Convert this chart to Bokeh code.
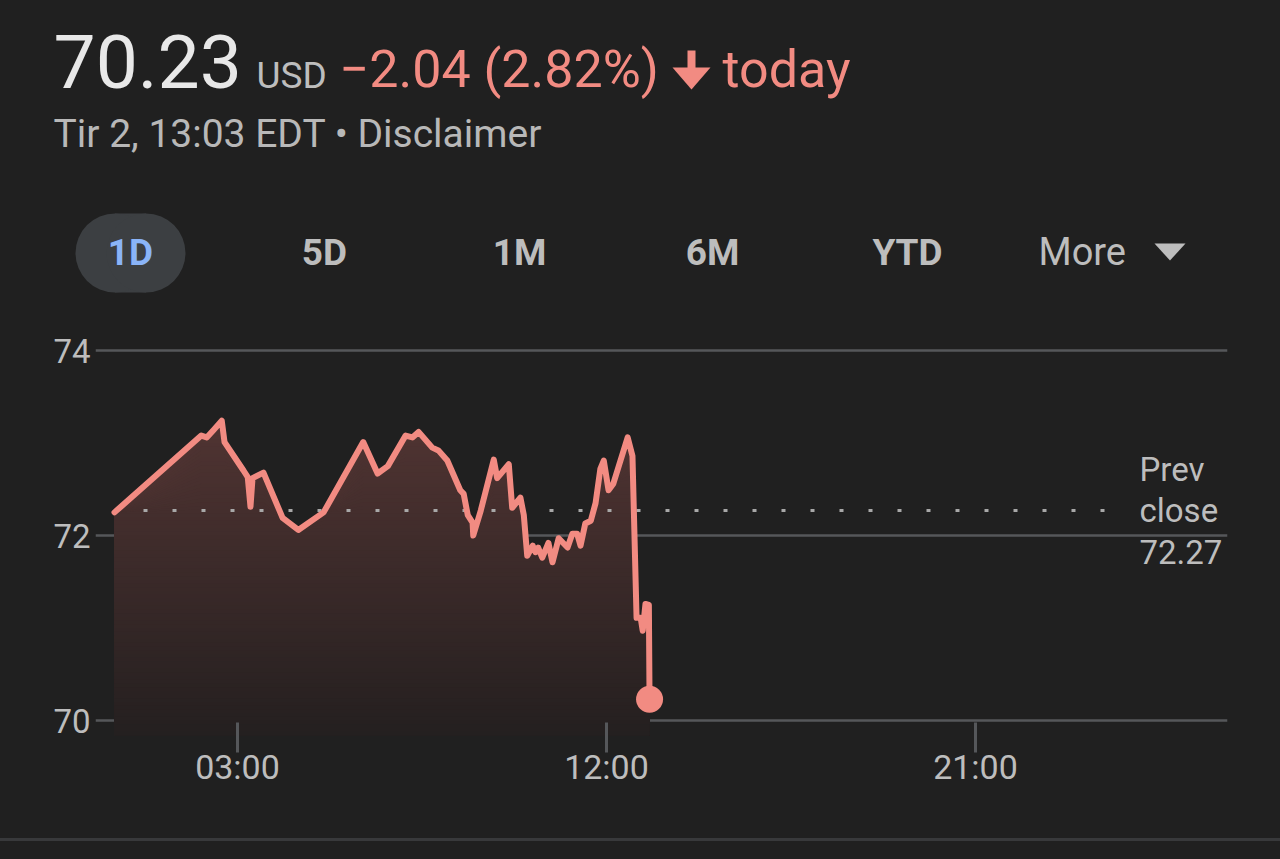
import numpy as np
from bokeh.plotting import figure
from bokeh.models import Range1d, FixedTicker, Label, Div
from bokeh.layouts import column
from bokeh.core.properties import value
from bokeh.embed import file_html
from bokeh.resources import INLINE

# ---------------- data ----------------
times = ["00:00", "02:07", "02:15", "02:25", "02:37", "02:41", "03:09", "03:15",
         "03:19", "03:22", "03:38", "04:06", "04:29", "05:06", "06:04", "06:25",
         "06:40", "07:06", "07:16", "07:25", "07:45", "07:54", "08:07", "08:26",
         "08:31", "08:37", "08:44", "08:45", "08:56", "09:15", "09:20", "09:37",
         "09:42", "09:54", "09:59", "10:04", "10:12", "10:16", "10:20", "10:26",
         "10:35", "10:41", "10:50", "11:03", "11:10", "11:17", "11:22", "11:29",
         "11:37", "11:44", "11:51", "11:56", "12:03", "12:10", "12:31", "12:38",
         "12:44", "12:50", "12:53", "12:57", "13:02", "13:03"]
prices = [72.25, 73.08, 73.06, 73.14, 73.24, 73.01, 72.70, 72.63,
          72.31, 72.62, 72.68, 72.19, 72.06, 72.25, 73.01, 72.67,
          72.75, 73.08, 73.06, 73.12, 72.95, 72.92, 72.81, 72.49,
          72.45, 72.22, 72.14, 72.00, 72.27, 72.82, 72.62, 72.77,
          72.30, 72.41, 72.22, 71.78, 71.89, 71.82, 71.87, 71.76,
          71.92, 71.71, 71.97, 71.87, 72.02, 72.02, 71.89, 72.13,
          72.16, 72.35, 72.72, 72.81, 72.49, 72.56, 73.06, 72.86,
          71.11, 71.11, 70.97, 71.26, 71.25, 70.23]
prev_close = 72.27
y_ticks = [70, 72, 74]
x_tick_labels = ["03:00", "12:00", "21:00"]

price_text = "70.23"
currency = "USD"
change_text = "\u22122.04 (2.82%)"
today_text = "today"
sub_text = "Tir 2, 13:03 EDT \u2022 Disclaimer"
periods = ["1D", "5D", "1M", "6M", "YTD"]
more_text = "More"
prev_lines = ["Prev", "close", f"{prev_close:.2f}"]

# ---------------- style ----------------
BG = "#202020"
GRID = "#55575a"
DIM = "#bdbdbd"
RED = "#f28b82"
BLUE = "#8ab4f8"
PILL = "#3c3f42"
FONT = "Roboto"
W = 1280


def to_hours(t):
    hh, mm = t.split(":")
    return int(hh) + int(mm) / 60.0


hours = np.array([to_hours(t) for t in times])
pr = np.array(prices)
tick_hours = [to_hours(t) for t in x_tick_labels]

# ---------------- header ----------------
head = figure(width=W, height=328, x_range=Range1d(0, W), y_range=Range1d(328, 0),
              x_axis_type=None, y_axis_type=None, min_border=0,
              min_border_left=0, min_border_right=0, min_border_top=0, min_border_bottom=0,
              outline_line_color=None,
              toolbar_location=None, output_backend="svg",
              background_fill_color=BG, border_fill_color=BG)
head.xgrid.visible = False
head.ygrid.visible = False


def htext(x, baseline, txt, size, color, **kw):
    # place by visual baseline (small correction for the renderer's baseline)
    head.text(x=x, y=[baseline - 0.36 * size] * len(x), text=txt, text_font=value(FONT),
              text_font_size=value(f"{size}px"), text_color=color,
              text_baseline="alphabetic", **kw)


htext([53], 88, [price_text], 75, "#e8e8e8")
htext([256], 88, [currency], 37, DIM)
htext([339], 88, [change_text], 52, RED)
htext([722], 88, [today_text], 52, RED)
# down arrow
head.quad(left=[687], right=[695], top=[50], bottom=[72], fill_color=RED, line_color=None)
head.patch(x=[672, 710, 691], y=[67, 67, 89], fill_color=RED, line_color=None)

htext([53], 148, [sub_text], 39, "#b8b8b8")

# period pill
head.quad(left=[114.5], right=[145.5], top=[213], bottom=[292], fill_color=PILL, line_color=None)
head.circle(x=[114.5, 145.5], y=[252.5, 252.5], radius=39.5, fill_color=PILL, line_color=None)

px = [130, 324, 519, 712, 907]
pc = [BLUE] + [DIM] * (len(periods) - 1)
htext(px, 265, periods, 37, pc, text_font_style="bold", text_align="center")
htext([1038], 265, [more_text], 38, DIM)
head.patch(x=[1154, 1185, 1169.5], y=[243, 243, 260], fill_color=DIM, line_color=None)

# ---------------- chart ----------------
x0 = (95 - 114) / 41.0
x1 = (1227 - 114) / 41.0
y0 = 70 - 15 / 92.5
y1 = 74 + 10 / 92.5

p = figure(width=W, height=510, x_range=Range1d(x0, x1), y_range=Range1d(y0, y1),
           min_border_left=95, min_border_right=W - 1227, min_border_top=12, min_border_bottom=103,
           toolbar_location=None, output_backend="svg", outline_line_color=None,
           background_fill_color=BG, border_fill_color=BG)

for fig in (head, p):
    try:
        fig.frame_align = False
    except Exception:
        pass


def grad_color(level):
    t = level - 70.0
    r = int(np.clip(39 + 13.0 * t, 30, 255))
    g = int(np.clip(33 + 6.0 * t, 30, 255))
    b = int(np.clip(33 + 5.5 * t, 30, 255))
    return "#%02x%02x%02x" % (r, g, b)


levels = np.arange(69.80, 73.52, 0.04)
for k in reversed(range(len(levels) - 1)):
    top = np.minimum(pr, levels[k + 1])
    p.varea(x=hours, y1=y0, y2=top, fill_color=grad_color(levels[k]))

# previous close dotted line
p.line(x=[hours[0], 24.45], y=[prev_close, prev_close], line_color="#a8a8a8",
       line_width=3, line_dash="4 25")

p.line(x=hours, y=pr, line_color=RED, line_width=6, line_join="round", line_cap="round")
p.scatter(x=hours[-1:], y=pr[-1:], size=27, fill_color=RED, line_color=None)

for i, txt in enumerate(prev_lines):
    p.add_layout(Label(x=25.0, y=prev_close, y_offset=41 * (1 - i), text=txt,
                       text_font=FONT, text_font_size="33px", text_color=DIM,
                       text_baseline="middle"))

# axes
p.xgrid.visible = False
p.ygrid.ticker = FixedTicker(ticks=y_ticks)
p.ygrid.grid_line_color = GRID
p.ygrid.grid_line_width = 2.5

p.yaxis.ticker = FixedTicker(ticks=y_ticks)
p.yaxis.axis_line_color = None
p.yaxis.major_tick_line_color = None
p.yaxis.minor_tick_line_color = None
p.yaxis.major_tick_out = 0
p.yaxis.major_tick_in = 0
p.yaxis.minor_tick_out = 0
p.yaxis.minor_tick_in = 0
p.yaxis.major_label_standoff = 5
p.yaxis.major_label_text_font = FONT
p.yaxis.major_label_text_font_size = "33px"
p.yaxis.major_label_text_color = DIM

p.xaxis.ticker = FixedTicker(ticks=tick_hours)
p.xaxis.major_label_overrides = {h: lab for h, lab in zip(tick_hours, x_tick_labels)}
p.xaxis.axis_line_color = None
p.xaxis.major_tick_line_color = GRID
p.xaxis.major_tick_line_width = 3
p.xaxis.major_tick_in = 13
p.xaxis.major_tick_out = 17
p.xaxis.minor_tick_line_color = None
p.xaxis.minor_tick_out = 0
p.xaxis.minor_tick_in = 0
p.xaxis.major_label_standoff = -6
p.xaxis.major_label_text_font = FONT
p.xaxis.major_label_text_font_size = "34px"
p.xaxis.major_label_text_color = DIM

sep = Div(width=W, height=3, margin=0, styles={"background-color": "#38393b"})
filler = Div(width=W, height=16, margin=0, styles={"background-color": BG})

layout = column(head, p, sep, filler, spacing=0)
try:
    from bokeh.models import GlobalInlineStyleSheet
    layout.stylesheets = [GlobalInlineStyleSheet(css="html, body { background-color: #202020; }")]
except Exception:
    pass

open("out.html", "w").write(file_html(layout, INLINE))
